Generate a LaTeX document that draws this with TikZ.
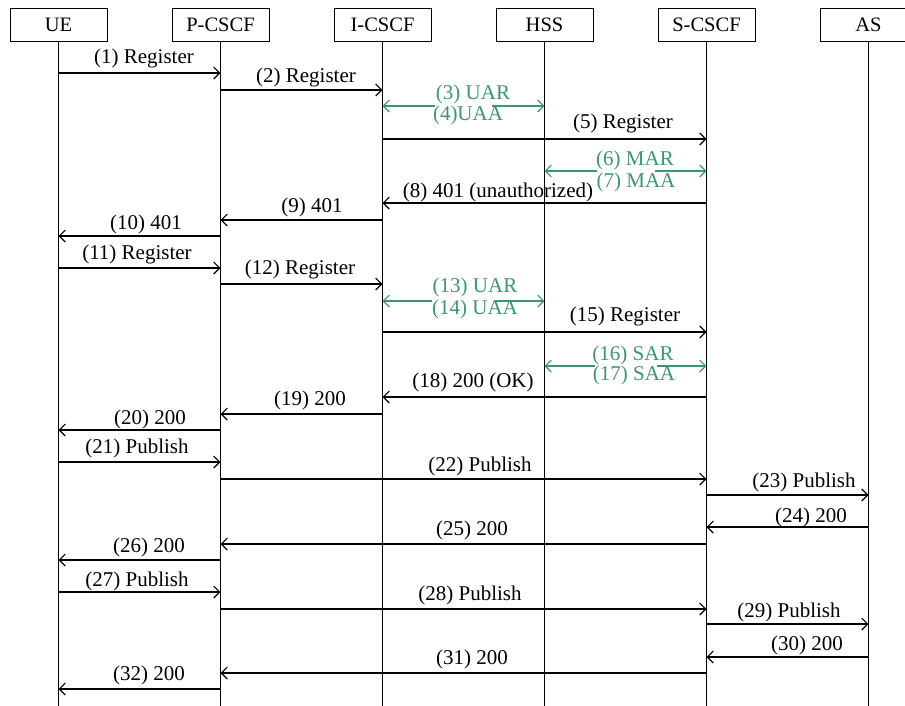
\documentclass[tikz,border=0pt]{standalone}
\usepackage{fontspec}
\setmainfont{Liberation Serif}
\usetikzlibrary{arrows.meta}
\definecolor{diagreen}{RGB}{60,152,108}
\begin{document}
\begin{tikzpicture}[x=1pt,y=-1pt,
  actor/.style={draw,line width=1pt,minimum width=97pt,minimum height=33pt,inner sep=0pt,fill=white,font=\fontsize{20.5}{24}\selectfont},
  life/.style={line width=1pt},
  msg/.style={line width=1.1pt,-{Straight Barb[length=6pt,width=12pt]}},
  dmsg/.style={line width=1.1pt,diagreen,{Straight Barb[length=6pt,width=12pt]}-{Straight Barb[length=6pt,width=12pt]}},
  lab/.style={inner sep=0pt,font=\fontsize{21}{25}\selectfont},
  glab/.style={lab,text=diagreen}]
\useasboundingbox (0,0) rectangle (905,705);
\fill[white] (0,0) rectangle (905,705);
% actors
\node[actor] (ue) at (58.5,24.5) {UE};
\node[actor] (pc) at (220.5,24.5) {P-CSCF};
\node[actor] (ic) at (382.5,24.5) {I-CSCF};
\node[actor] (hss) at (544.5,24.5) {HSS};
\node[actor] (sc) at (706.5,24.5) {S-CSCF};
\node[actor] (as) at (868.5,24.5) {AS};
\coordinate (bot) at (0,706);
% lifelines
\foreach \n in {ue,pc,ic,hss,sc,as} \draw[life] (\n) -- (\n |- bot);
% messages
\draw[msg] (ue |- 0,73) -- (pc |- 0,73);
\node[lab] (l1) at (144,58) {(1) Register};
\draw[msg] (pc |- 0,90) -- (ic |- 0,90);
\node[lab] (l2) at (306,77) {(2) Register};
\draw[dmsg] (ic |- 0,106) -- (hss |- 0,106);
\fill[white] (435,102) rectangle (492,110);
\node[glab] (l3) at (473,94) {(3) UAR};
\node[glab] (l4) at (468,115) {(4)UAA};
\draw[msg] (ic |- 0,139) -- (sc |- 0,139);
\node[lab] (l5) at (623,123) {(5) Register};
\draw[dmsg] (hss |- 0,171) -- (sc |- 0,171);
\fill[white] (597,167) rectangle (655,175);
\node[glab] (l6) at (635,160) {(6) MAR};
\node[glab] (l7) at (636,182) {(7) MAA};
\draw[msg] (sc |- 0,203) -- (ic |- 0,203);
\node[lab] (l8) at (498,192) {(8) 401 (unauthorized)};
\draw[msg] (ic |- 0,220) -- (pc |- 0,220);
\node[lab] (l9) at (312,207) {(9) 401};
\draw[msg] (pc |- 0,236) -- (ue |- 0,236);
\node[lab] (l10) at (146,224) {(10) 401};
\draw[msg] (ue |- 0,268) -- (pc |- 0,268);
\node[lab] (l11) at (137,254) {(11) Register};
\draw[msg] (pc |- 0,284) -- (ic |- 0,284);
\node[lab] (l12) at (300,269) {(12) Register};
\draw[dmsg] (ic |- 0,301) -- (hss |- 0,301);
\fill[white] (432,297) rectangle (495,305);
\node[glab] (l13) at (475,287) {(13) UAR};
\node[glab] (l14) at (475,309) {(14) UAA};
\draw[msg] (ic |- 0,332) -- (sc |- 0,332);
\node[lab] (l15) at (625,316) {(15) Register};
\draw[dmsg] (hss |- 0,366) -- (sc |- 0,366);
\fill[white] (595,362) rectangle (657,370);
\node[glab] (l16) at (633,355) {(16) SAR};
\node[glab] (l17) at (634,375) {(17) SAA};
\draw[msg] (sc |- 0,397) -- (ic |- 0,397);
\node[lab] (l18) at (473,382) {(18) 200 (OK)};
\draw[msg] (ic |- 0,414) -- (pc |- 0,414);
\node[lab] (l19) at (310,400) {(19) 200};
\draw[msg] (pc |- 0,430) -- (ue |- 0,430);
\node[lab] (l20) at (150,419) {(20) 200};
\draw[msg] (ue |- 0,462) -- (pc |- 0,462);
\node[lab] (l21) at (137,448) {(21) Publish};
\draw[msg] (pc |- 0,479) -- (sc |- 0,479);
\node[lab] (l22) at (480,466) {(22) Publish};
\draw[msg] (sc |- 0,495) -- (as |- 0,495);
\node[lab] (l23) at (804,482) {(23) Publish};
\draw[msg] (as |- 0,527) -- (sc |- 0,527);
\node[lab] (l24) at (811,517) {(24) 200};
\draw[msg] (sc |- 0,544) -- (pc |- 0,544);
\node[lab] (l25) at (472,530) {(25) 200};
\draw[msg] (pc |- 0,560) -- (ue |- 0,560);
\node[lab] (l26) at (149,547) {(26) 200};
\draw[msg] (ue |- 0,592) -- (pc |- 0,592);
\node[lab] (l27) at (137,581) {(27) Publish};
\draw[msg] (pc |- 0,609) -- (sc |- 0,609);
\node[lab] (l28) at (470,595) {(28) Publish};
\draw[msg] (sc |- 0,624) -- (as |- 0,624);
\node[lab] (l29) at (789,612) {(29) Publish};
\draw[msg] (as |- 0,657) -- (sc |- 0,657);
\node[lab] (l30) at (807,645) {(30) 200};
\draw[msg] (sc |- 0,673) -- (pc |- 0,673);
\node[lab] (l31) at (472,659) {(31) 200};
\draw[msg] (pc |- 0,689) -- (ue |- 0,689);
\node[lab] (l32) at (149,675) {(32) 200};
\end{tikzpicture}
\end{document}
